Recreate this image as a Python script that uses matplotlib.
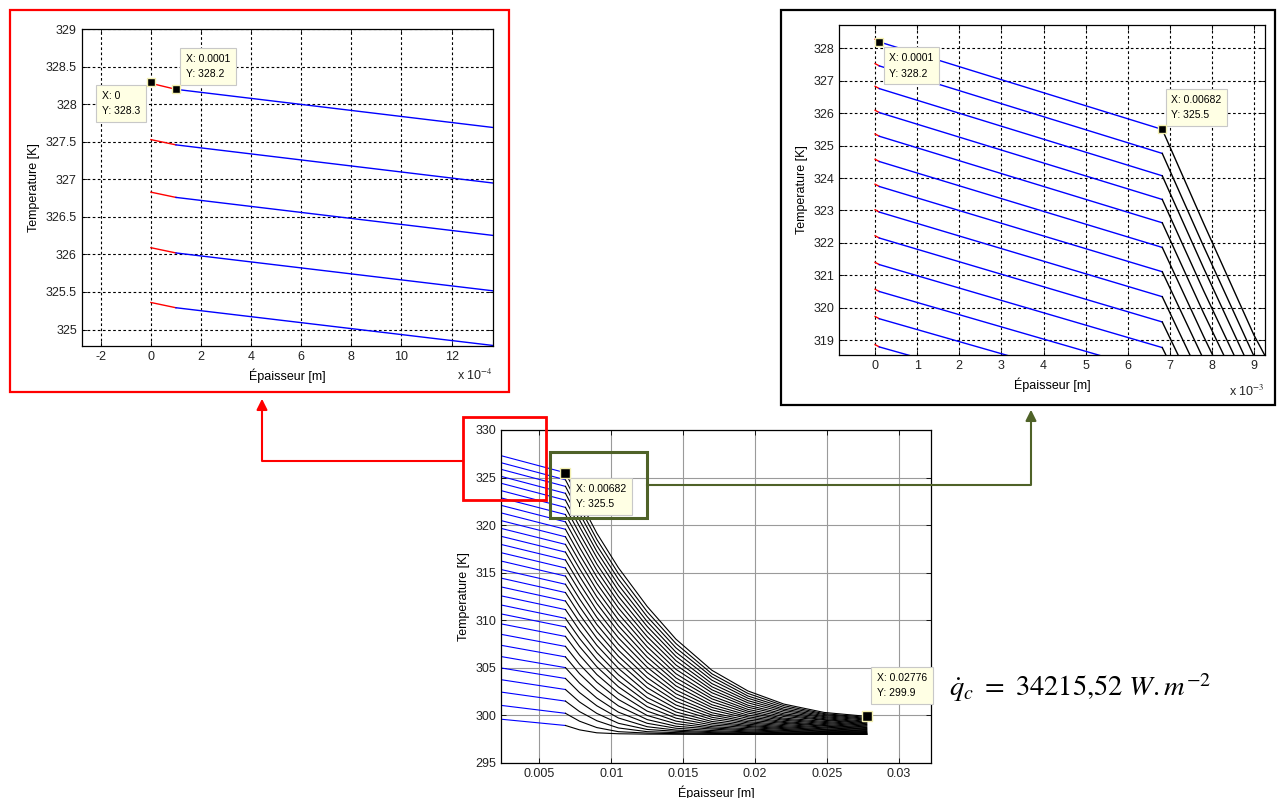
import numpy as np
import matplotlib.pyplot as plt
from matplotlib.patches import Rectangle
from matplotlib.ticker import FuncFormatter

plt.rcParams['font.family'] = ['Liberation Sans', 'DejaVu Sans']
plt.rcParams['mathtext.fontset'] = 'stix'

# positions through the wall [m]
x_red = [0.0, 0.0001]
x_blue = [0.0001, 0.00682]
x_black = [0.00682, 0.0078, 0.009, 0.0105, 0.0125, 0.0145, 0.017, 0.0195, 0.022, 0.0248, 0.02776]

# temperature at x = 0 and at x = 0.0001 for each time step [K]
T_face = [328.28, 327.53, 326.83, 326.09, 325.36, 324.58, 323.81, 323.02, 322.22, 321.40,
          320.57, 319.73, 318.86, 317.98, 317.09, 316.17, 315.25, 314.31, 313.35, 312.37,
          311.40, 310.33, 309.21, 308.03, 306.81, 305.58, 304.31, 302.97, 301.50, 299.96]
T_red = [328.20, 327.46, 326.76, 326.02, 325.29, 324.51, 323.74, 322.95, 322.15, 321.33,
         320.50, 319.66, 318.79, 317.91, 317.02, 316.11, 315.19, 314.25, 313.29, 312.31,
         311.35, 310.28, 309.16, 307.98, 306.77, 305.54, 304.27, 302.93, 301.47, 299.93]

# temperature in the last layer, one row per time step, at x_black [K]
T_black = [
    [325.50, 322.61, 319.15, 315.52, 311.45, 308.01, 304.74, 302.57, 301.19, 300.31, 299.90],
    [324.76, 321.90, 318.50, 314.91, 310.90, 307.55, 304.37, 302.31, 301.02, 300.19, 299.79],
    [324.07, 321.23, 317.87, 314.32, 310.38, 307.10, 304.05, 302.04, 300.84, 300.09, 299.69],
    [323.34, 320.53, 317.23, 313.71, 309.86, 306.64, 303.70, 301.80, 300.66, 299.98, 299.60],
    [322.62, 319.84, 316.59, 313.12, 309.35, 306.20, 303.34, 301.55, 300.51, 299.87, 299.50],
    [321.86, 319.12, 315.90, 312.51, 308.81, 305.75, 303.01, 301.32, 300.34, 299.77, 299.38],
    [321.11, 318.41, 315.24, 311.89, 308.28, 305.30, 302.69, 301.07, 300.17, 299.66, 299.29],
    [320.34, 317.66, 314.55, 311.29, 307.74, 304.84, 302.38, 300.86, 300.03, 299.56, 299.21],
    [319.56, 316.91, 313.87, 310.68, 307.21, 304.38, 302.03, 300.63, 299.88, 299.49, 299.12],
    [318.77, 316.17, 313.16, 310.05, 306.66, 303.94, 301.74, 300.43, 299.72, 299.37, 299.04],
    [317.97, 315.41, 312.46, 309.42, 306.13, 303.51, 301.43, 300.24, 299.60, 299.26, 298.96],
    [317.16, 314.63, 311.76, 308.79, 305.59, 303.10, 301.12, 300.03, 299.49, 299.15, 298.88],
    [316.33, 313.86, 311.03, 308.15, 305.06, 302.67, 300.84, 299.85, 299.36, 299.04, 298.79],
    [315.49, 313.06, 310.31, 307.50, 304.51, 302.27, 300.57, 299.68, 299.26, 298.94, 298.72],
    [314.64, 312.24, 309.56, 306.85, 303.97, 301.86, 300.28, 299.50, 299.16, 298.87, 298.63],
    [313.78, 311.44, 308.84, 306.22, 303.43, 301.47, 300.04, 299.34, 299.04, 298.77, 298.57],
    [312.91, 310.61, 308.11, 305.59, 302.92, 301.09, 299.80, 299.21, 298.92, 298.69, 298.51],
    [312.02, 309.79, 307.37, 304.94, 302.39, 300.72, 299.58, 299.07, 298.81, 298.59, 298.43],
    [311.12, 308.94, 306.61, 304.28, 301.87, 300.36, 299.36, 298.94, 298.71, 298.51, 298.37],
    [310.20, 308.09, 305.86, 303.64, 301.39, 300.03, 299.17, 298.84, 298.61, 298.44, 298.31],
    [309.30, 307.24, 305.11, 303.01, 300.92, 299.71, 298.99, 298.72, 298.52, 298.36, 298.25],
    [308.30, 306.33, 304.30, 302.35, 300.45, 299.40, 298.82, 298.59, 298.42, 298.30, 298.21],
    [307.25, 305.37, 303.49, 301.67, 299.99, 299.12, 298.68, 298.48, 298.34, 298.22, 298.16],
    [306.15, 304.38, 302.66, 301.00, 299.56, 298.86, 298.56, 298.37, 298.26, 298.17, 298.12],
    [305.02, 303.39, 301.82, 300.34, 299.17, 298.65, 298.41, 298.27, 298.18, 298.13, 298.08],
    [303.88, 302.40, 301.01, 299.73, 298.81, 298.46, 298.29, 298.19, 298.12, 298.08, 298.05],
    [302.72, 301.41, 300.21, 299.17, 298.52, 298.33, 298.19, 298.12, 298.08, 298.05, 298.03],
    [301.50, 300.40, 299.44, 298.68, 298.29, 298.19, 298.11, 298.06, 298.04, 298.02, 298.01],
    [300.22, 299.39, 298.72, 298.29, 298.14, 298.08, 298.04, 298.02, 298.01, 298.01, 298.00],
    [298.94, 298.48, 298.17, 298.07, 298.03, 298.02, 298.01, 298.00, 298.00, 298.00, 298.00],
]

# data tips shown in each view
tips_main = [(0.00682, 325.5), (0.02776, 299.9)]
tips_left = [(0.0, 328.3), (0.0001, 328.2)]
tips_right = [(0.0001, 328.2), (0.00682, 325.5)]


def draw_profiles(ax, lw):
    for t0, t1, row in zip(T_face, T_red, T_black):
        ax.plot(x_red, [t0, t1], color='red', lw=lw)
        ax.plot(x_blue, [t1, row[0]], color='blue', lw=lw)
        ax.plot(x_black, row, color='black', lw=lw)


def datatip(ax, tip, dx, dy, ha, va, ms=6):
    x, y = tip
    ax.plot(x, y, 's', color='black', ms=ms, mec='#f4f0b0', mew=1.0,
            zorder=8, clip_on=False)
    ax.annotate(f'X: {x:g}\nY: {y:g}', xy=(x, y), xytext=(dx, dy),
                textcoords='offset points', ha=ha, va=va, fontsize=7.5,
                multialignment='left', linespacing=1.7, zorder=6,
                bbox=dict(boxstyle='square,pad=0.55', fc='#ffffe4', ec='#c8c8c8', lw=0.8))


def matlab_style(ax, grid):
    ax.set_axisbelow(True)
    ax.tick_params(direction='in', top=True, right=True, labelsize=9,
                   length=3.5, width=0.6, labelcolor='#222222')
    if grid == 'solid':
        ax.grid(True, color='#9a9a9a', lw=0.8)
    else:
        ax.grid(True, color='black', lw=0.8, ls=(0, (2.4, 2.2)))
    for s in ax.spines.values():
        s.set_linewidth(0.9)
    ax.set_xlabel('Épaisseur [m]', fontsize=9)
    ax.set_ylabel('Temperature [K]', fontsize=9)


fig = plt.figure(figsize=(12.81, 7.98), dpi=100)

# main view
ax = fig.add_axes([0.3911, 0.0439, 0.3357, 0.4173])
draw_profiles(ax, 0.8)
ax.set_xlim(0.00234, 0.03223)
ax.set_ylim(295, 330)
ax.set_xticks([0.005, 0.01, 0.015, 0.02, 0.025, 0.03])
ax.set_yticks(np.arange(295, 331, 5))
ax.xaxis.set_major_formatter(FuncFormatter(lambda v, p: f'{v:g}'))
matlab_style(ax, 'solid')
datatip(ax, tips_main[0], 7.5, -8, 'left', 'top', ms=6.5)
datatip(ax, tips_main[1], 7.5, 13, 'left', 'bottom', ms=6.5)

# zoom near the surface
ax1 = fig.add_axes([0.0638, 0.5664, 0.3208, 0.3969])
draw_profiles(ax1, 1.0)
ax1.set_xlim(-2.76e-4, 13.64e-4)
ax1.set_ylim(324.78, 329)
ax1.set_xticks(np.arange(-2, 13, 2) * 1e-4)
ax1.set_yticks(np.arange(325, 329.1, 0.5))
ax1.xaxis.set_major_formatter(FuncFormatter(lambda v, p: f'{v * 1e4:.0f}'))
ax1.yaxis.set_major_formatter(FuncFormatter(lambda v, p: f'{v:g}'))
matlab_style(ax1, 'dashed')
ax1.text(1.0, -0.092, r'x 10$^{-4}$', transform=ax1.transAxes, ha='right',
         va='center', fontsize=9, color='#222222')
datatip(ax1, tips_left[0], -8, -6.5, 'right', 'top', ms=6)
datatip(ax1, tips_left[1], 7.2, 7.2, 'left', 'bottom', ms=6)

# zoom on the first layers
ax2 = fig.add_axes([0.6552, 0.5551, 0.3323, 0.4135])
draw_profiles(ax2, 1.0)
ax2.set_xlim(-0.85e-3, 9.26e-3)
ax2.set_ylim(318.54, 328.72)
ax2.set_xticks(np.arange(0, 10) * 1e-3)
ax2.set_yticks(np.arange(319, 329))
ax2.xaxis.set_major_formatter(FuncFormatter(lambda v, p: f'{v * 1e3:.0f}'))
matlab_style(ax2, 'dashed')
ax2.text(1.0, -0.111, r'x 10$^{-3}$', transform=ax2.transAxes, ha='right',
         va='center', fontsize=9, color='#222222')
datatip(ax2, tips_right[0], 7.2, -8, 'left', 'top', ms=6)
datatip(ax2, tips_right[1], 6.5, 6.5, 'left', 'bottom', ms=6)

# frames, zoom boxes and arrows in pixel space
ov = fig.add_axes([0, 0, 1, 1])
ov.set_xlim(0, 1281)
ov.set_ylim(798, 0)
ov.axis('off')
green = '#4f6228'
ov.add_patch(Rectangle((10, 10), 499, 382, fill=False, ec='red', lw=1.6))
ov.add_patch(Rectangle((781, 10), 494, 395, fill=False, ec='black', lw=1.6))
ov.add_patch(Rectangle((463, 417), 83, 83, fill=False, ec='red', lw=2))
ov.add_patch(Rectangle((550, 452), 97, 66, fill=False, ec=green, lw=2.2))
ov.plot([463, 262, 262], [461, 461, 410], color='red', lw=1.5)
ov.annotate('', xy=(262, 396), xytext=(262, 412),
            arrowprops=dict(arrowstyle='-|>', color='red', lw=1.5, mutation_scale=16))
ov.plot([647, 1031, 1031], [485, 485, 422], color=green, lw=1.5)
ov.annotate('', xy=(1031, 407), xytext=(1031, 424),
            arrowprops=dict(arrowstyle='-|>', color=green, lw=1.5, mutation_scale=16))
ov.text(949, 688, r'$\dot{q}_c\ =\ 34215{,}52\ W.m^{-2}$', fontsize=20.5,
        ha='left', va='center')

fig.savefig('out.png', dpi=100)
